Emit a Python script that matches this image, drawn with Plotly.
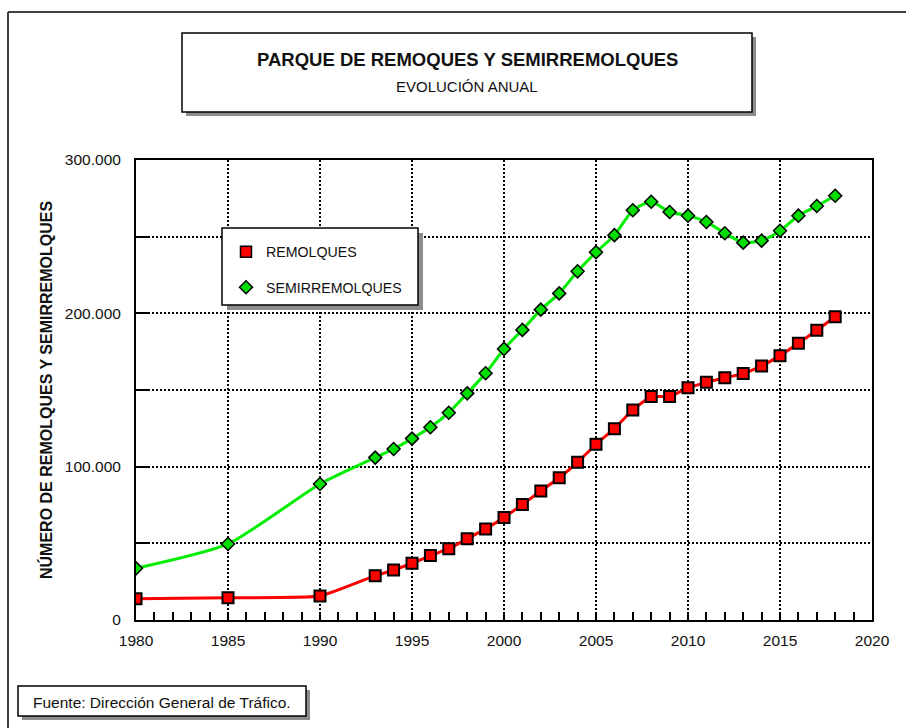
import plotly.graph_objects as go

# ---------------- data ----------------
years = [1980, 1985, 1990, 1993, 1994, 1995, 1996, 1997, 1998, 1999, 2000,
         2001, 2002, 2003, 2004, 2005, 2006, 2007, 2008, 2009, 2010,
         2011, 2012, 2013, 2014, 2015, 2016, 2017, 2018]
remolques = [13800, 14500, 15600, 28900, 32600, 37000, 42000, 46500, 53000, 59400, 66800,
             75400, 84100, 92800, 102800, 114600, 124800, 137000, 145700, 145700, 151500,
             155000, 158000, 160700, 165700, 172400, 180500, 189000, 197800]
semirremolques = [33700, 49600, 88700, 105900, 111500, 118300, 125700, 135200, 147800, 160900, 176800,
                  189200, 202400, 213000, 227400, 239800, 251000, 267200, 272800, 266100, 263700,
                  259600, 252200, 246100, 247400, 253900, 263700, 270000, 276700]

y_tickvals = [0, 50000, 100000, 150000, 200000, 250000, 300000]
y_ticktext = ["0", "", "100.000", "", "200.000", "", "300.000"]
x_tickvals = [1980, 1985, 1990, 1995, 2000, 2005, 2010, 2015, 2020]

title_text = "PARQUE DE REMOQUES Y SEMIRREMOLQUES"
subtitle_text = "EVOLUCIÓN ANUAL"
ytitle_text = "NÚMERO DE REMOLQUES Y SEMIRREMOLQUES"
source_text = "Fuente: Dirección General de Tráfico."

# ---------------- layout geometry (pixels) ----------------
W, H = 906, 728
L, R, T, B = 136, 872, 160, 620
FONT = "Liberation Sans, Arial, sans-serif"


def px(x):
    return (x - L) / (R - L)


def py(y):
    return (B - y) / (B - T)


RED = "#ff0000"
GREEN = "#00ee00"

fig = go.Figure()
fig.add_trace(go.Scatter(
    x=years, y=semirremolques, mode="lines+markers", name="SEMIRREMOLQUES",
    line=dict(color=GREEN, width=3, shape="spline", smoothing=0.6),
    marker=dict(symbol="diamond", size=10, color="#00dd00", line=dict(color="black", width=1.5)),
    showlegend=False))
fig.add_trace(go.Scatter(
    x=years, y=remolques, mode="lines+markers", name="REMOLQUES",
    line=dict(color=RED, width=3, shape="spline", smoothing=0.4),
    marker=dict(symbol="square", size=11, color=RED, line=dict(color="black", width=2)),
    showlegend=False))
# legend-only entries
fig.add_trace(go.Scatter(
    x=[None], y=[None], mode="markers", name="REMOLQUES", legendgroup="a",
    marker=dict(symbol="square", size=11, color=RED, line=dict(color="black", width=1.5))))
fig.add_trace(go.Scatter(
    x=[None], y=[None], mode="markers", name="SEMIRREMOLQUES", legendgroup="b",
    marker=dict(symbol="diamond", size=10, color="#00dd00", line=dict(color="black", width=1.5))))

shapes = []
annotations = []


def box(x0, y0, x1, y1, shadow=5):
    shapes.append(dict(type="rect", xref="paper", yref="paper",
                       x0=px(x0 + shadow), x1=px(x1 + shadow), y0=py(y1 + shadow), y1=py(y0 + shadow),
                       fillcolor="#8c8c8c", line=dict(width=0), layer="above"))
    shapes.append(dict(type="rect", xref="paper", yref="paper",
                       x0=px(x0), x1=px(x1), y0=py(y1), y1=py(y0),
                       fillcolor="white", line=dict(color="black", width=1.5), layer="above"))


# outer frame (top and left)
shapes.append(dict(type="line", xref="paper", yref="paper", x0=px(8), x1=px(906), y0=py(12), y1=py(12),
                   line=dict(color="#404040", width=2), layer="above"))
shapes.append(dict(type="line", xref="paper", yref="paper", x0=px(8), x1=px(8), y0=py(12), y1=py(730),
                   line=dict(color="#404040", width=2), layer="above"))

box(182, 33, 752, 112, shadow=4)
box(222, 228, 418, 305, shadow=5)
box(18, 686, 306, 716, shadow=4)

annotations.append(dict(text="<b>" + title_text + "</b>", xref="paper", yref="paper",
                        x=px(467), y=py(60), showarrow=False, xanchor="center", yanchor="middle",
                        font=dict(family=FONT, size=18.5, color="#111")))
annotations.append(dict(text=subtitle_text, xref="paper", yref="paper",
                        x=px(467), y=py(87), showarrow=False, xanchor="center", yanchor="middle",
                        font=dict(family=FONT, size=15, color="#111")))
annotations.append(dict(text=source_text, xref="paper", yref="paper",
                        x=px(162), y=py(702), showarrow=False, xanchor="center", yanchor="middle",
                        font=dict(family=FONT, size=15.5, color="#111")))
annotations.append(dict(text="<b>" + ytitle_text + "</b>", xref="paper", yref="paper",
                        x=px(46), y=py(390), showarrow=False, xanchor="center", yanchor="middle",
                        textangle=-90, font=dict(family=FONT, size=16, color="#111")))

fig.update_layout(
    width=W, height=H,
    margin=dict(l=L, r=W - R, t=T, b=H - B, pad=0),
    paper_bgcolor="white", plot_bgcolor="white",
    font=dict(family=FONT, size=15.5, color="#111"),
    shapes=shapes, annotations=annotations,
    legend=dict(x=px(226), y=py(236), xanchor="left", yanchor="top",
                bgcolor="rgba(0,0,0,0)", borderwidth=0,
                font=dict(family=FONT, size=14.2, color="#111"),
                tracegroupgap=14),
)

fig.update_xaxes(range=[1980, 2020], tickmode="array", tickvals=x_tickvals,
                 ticks="inside", ticklen=8, tickwidth=1.5, tickcolor="black",
                 minor=dict(dtick=1, ticks="inside", ticklen=8, tickwidth=1.5, tickcolor="black",
                            showgrid=False),
                 showline=True, linecolor="black", linewidth=2, mirror=True,
                 showgrid=True, gridcolor="black", gridwidth=2, griddash="2px,2px",
                 zeroline=False, ticklabelstandoff=5,
                 tickfont=dict(family=FONT, size=15.5, color="#111"))
fig.update_yaxes(range=[0, 300000], tickmode="array", tickvals=y_tickvals, ticktext=y_ticktext,
                 ticks="inside", ticklen=12, tickwidth=2, tickcolor="black",
                 showline=True, linecolor="black", linewidth=2, mirror=True,
                 showgrid=True, gridcolor="black", gridwidth=2, griddash="2px,2px",
                 zeroline=False, ticklabelstandoff=10,
                 tickfont=dict(family=FONT, size=15.5, color="#111"))

fig.write_html("out.html", config={"displayModeBar": False},
               post_script="document.body.style.margin='0px';document.body.style.overflow='hidden';")
